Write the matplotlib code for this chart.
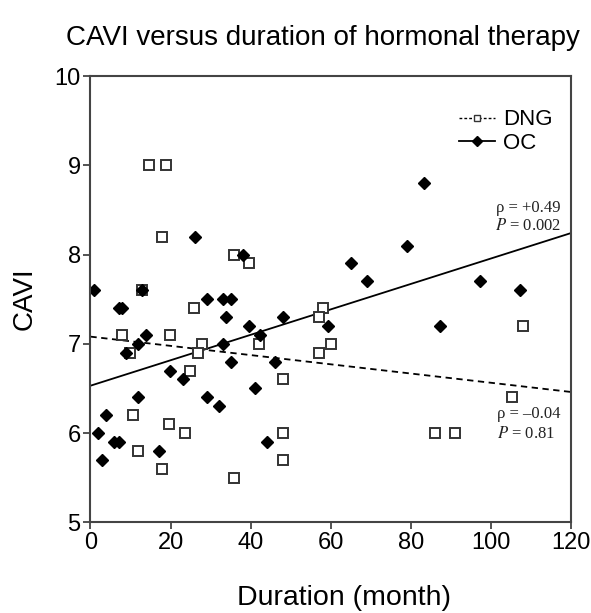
import matplotlib.pyplot as plt
from matplotlib.lines import Line2D

# DNG group (open squares)
dng_months = [14.7, 18.8, 17.8, 35.8, 39.5, 12.8, 25.9, 7.8, 19.9, 27.9, 9.8, 26.8, 24.9,
              10.7, 19.7, 23.7, 11.9, 17.9, 35.8, 42.1, 58.2, 57.0, 60.0, 57.0, 48.0, 48.0,
              48.0, 108.0, 105.2, 86.0, 91.0]
dng_cavi = [9.0, 9.0, 8.2, 8.0, 7.9, 7.6, 7.4, 7.1, 7.1, 7.0, 6.9, 6.9, 6.7,
            6.2, 6.1, 6.0, 5.8, 5.6, 5.5, 7.0, 7.4, 7.3, 7.0, 6.9, 6.6, 6.0,
            5.7, 7.2, 6.4, 6.0, 6.0]

# OC group (filled diamonds)
oc_months = [0.8, 12.8, 7.1, 8.0, 29.0, 33.1, 35.2, 33.9, 39.6, 14.0, 11.9, 33.1, 9.0,
             35.2, 19.9, 23.1, 11.9, 29.0, 32.1, 3.8, 1.8, 6.0, 7.1, 17.1, 2.8, 26.2,
             38.2, 65.0, 69.0, 79.0, 42.3, 48.0, 59.3, 46.2, 41.1, 44.1, 83.2, 97.3,
             107.3, 87.2]
oc_cavi = [7.6, 7.6, 7.4, 7.4, 7.5, 7.5, 7.5, 7.3, 7.2, 7.1, 7.0, 7.0, 6.9,
           6.8, 6.7, 6.6, 6.4, 6.4, 6.3, 6.2, 6.0, 5.9, 5.9, 5.8, 5.7, 8.2,
           8.0, 7.9, 7.7, 8.1, 7.1, 7.3, 7.2, 6.8, 6.5, 5.9, 8.8, 7.7,
           7.6, 7.2]

# regression lines read at the axis ends (x = 0 and x = 120)
fit_x = [0, 120]
dng_fit = [7.08, 6.46]
oc_fit = [6.53, 8.24]

plt.rcParams['font.family'] = ['Liberation Sans', 'DejaVu Sans']
plt.rcParams['mathtext.fontset'] = 'stix'

fig = plt.figure(figsize=(5.91, 6.13), dpi=100)
ax = fig.add_axes([0.153, 0.148, 0.813, 0.728])

ax.plot(fit_x, dng_fit, color='black', linestyle=(0, (3.5, 2.5)), linewidth=1.3)
ax.plot(fit_x, oc_fit, color='black', linestyle='-', linewidth=1.3)

ax.plot(dng_months, dng_cavi, linestyle='none', marker='s', markersize=7,
        markerfacecolor='white', markeredgecolor='#333333', markeredgewidth=1.4)
ax.plot(oc_months, oc_cavi, linestyle='none', marker='D', markersize=6.5,
        markerfacecolor='black', markeredgecolor='black')

ax.set_xlim(0, 120)
ax.set_ylim(5, 10)
ax.set_xticks([0, 20, 40, 60, 80, 100, 120])
ax.set_yticks([5, 6, 7, 8, 9, 10])
ax.tick_params(direction='out', length=5, width=1.3, labelsize=17, color='#444444', pad=2)
for s in ax.spines.values():
    s.set_linewidth(1.5)
    s.set_color('#444444')

ax.set_xlabel('Duration (month)', fontsize=20.5)
ax.xaxis.set_label_coords(0.528, -0.141)
ax.set_ylabel('CAVI', fontsize=20, labelpad=12)
fig.text(0.546, 0.938, 'CAVI versus duration of hormonal therapy', fontsize=20,
         ha='center', va='center')

handles = [
    Line2D([], [], color='black', linestyle=(0, (2, 1.5)), linewidth=1, marker='s',
           markersize=5, markerfacecolor='white', markeredgecolor='#333333'),
    Line2D([], [], color='black', linestyle='-', linewidth=1.3, marker='D',
           markersize=5, markerfacecolor='black'),
]
ax.legend(handles, ['DNG', 'OC'], loc='upper right', bbox_to_anchor=(0.995, 0.96),
          frameon=False, fontsize=16, handlelength=1.6, handletextpad=0.4,
          labelspacing=0.1, borderaxespad=0.3)

serif = ['Liberation Serif', 'DejaVu Serif']
note = dict(family=serif, fontsize=12, ha='right', va='center', color='#222222')
ax.text(117.5, 8.52, '\u03c1 = +0.49', **note)
ax.text(117.5, 8.32, '$P$ = 0.002', **note)
ax.text(117.5, 6.21, '\u03c1 = \u20130.04', **note)
ax.text(116.0, 5.99, '$P$ = 0.81', **note)

fig.savefig('out.png', dpi=100)
